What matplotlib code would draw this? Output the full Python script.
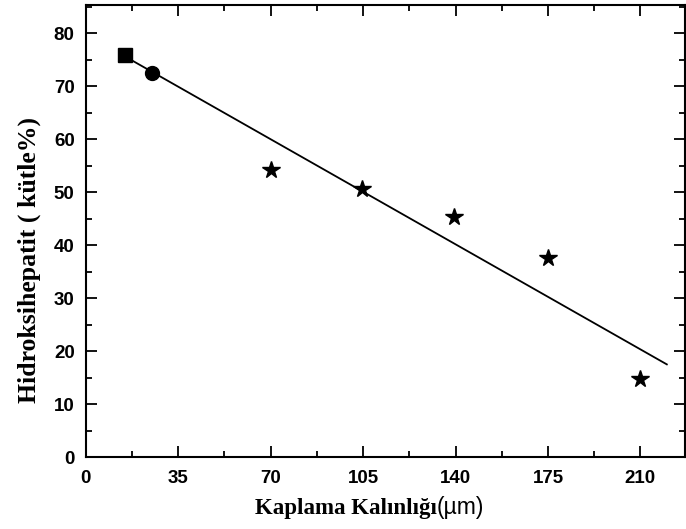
import matplotlib.pyplot as plt
from matplotlib.ticker import MultipleLocator

# kaplama kalınlığı (µm) ve HA oranı (kütle %)
x_square = [15]
y_square = [76.0]
x_circle = [25]
y_circle = [72.5]
x_star = [70, 104.5, 139.5, 175, 210]
y_star = [54.2, 50.7, 45.4, 37.5, 14.7]
fit_x = [15, 220]
fit_y = [75.6, 17.5]

fig = plt.figure(figsize=(6.86, 5.29), dpi=100)
ax = fig.add_axes([0.125, 0.136, 0.874, 0.854])

ax.plot(fit_x, fit_y, color='black', lw=1.3)
ax.plot(x_square, y_square, 's', color='black', ms=10)
ax.plot(x_circle, y_circle, 'o', color='black', ms=10)
ax.plot(x_star, y_star, '*', color='black', ms=13)

ax.set_xlim(0, 227)
ax.set_ylim(0, 85.3)
ax.xaxis.set_major_locator(MultipleLocator(35))
ax.xaxis.set_minor_locator(MultipleLocator(17.5))
ax.yaxis.set_major_locator(MultipleLocator(10))
ax.yaxis.set_minor_locator(MultipleLocator(5))
ax.tick_params(which='both', direction='in', top=True, right=True, width=1.3)
ax.tick_params(which='major', length=8, labelsize=13.5)
ax.tick_params(axis='x', which='major', pad=9)
ax.tick_params(axis='y', which='major', pad=8)
ax.tick_params(which='minor', length=4)
for lab in ax.get_xticklabels() + ax.get_yticklabels():
    lab.set_fontfamily('Liberation Sans')
    lab.set_fontweight('bold')
for s in ax.spines.values():
    s.set_linewidth(1.5)

fig.text(0.042, 0.508, 'Hidroksihepatit ( kütle%)', rotation=90, ha='center', va='center',
         fontfamily='Liberation Serif', fontweight='bold', fontsize=18.5)
fig.text(0.637, 0.038, 'Kaplama Kalınlığı', ha='right', va='center',
         fontfamily='Liberation Serif', fontweight='bold', fontsize=16.5)
fig.text(0.637, 0.040, '(µm)', ha='left', va='center',
         fontfamily='Liberation Sans', fontsize=16.5)

fig.savefig('out.png', dpi=100)
